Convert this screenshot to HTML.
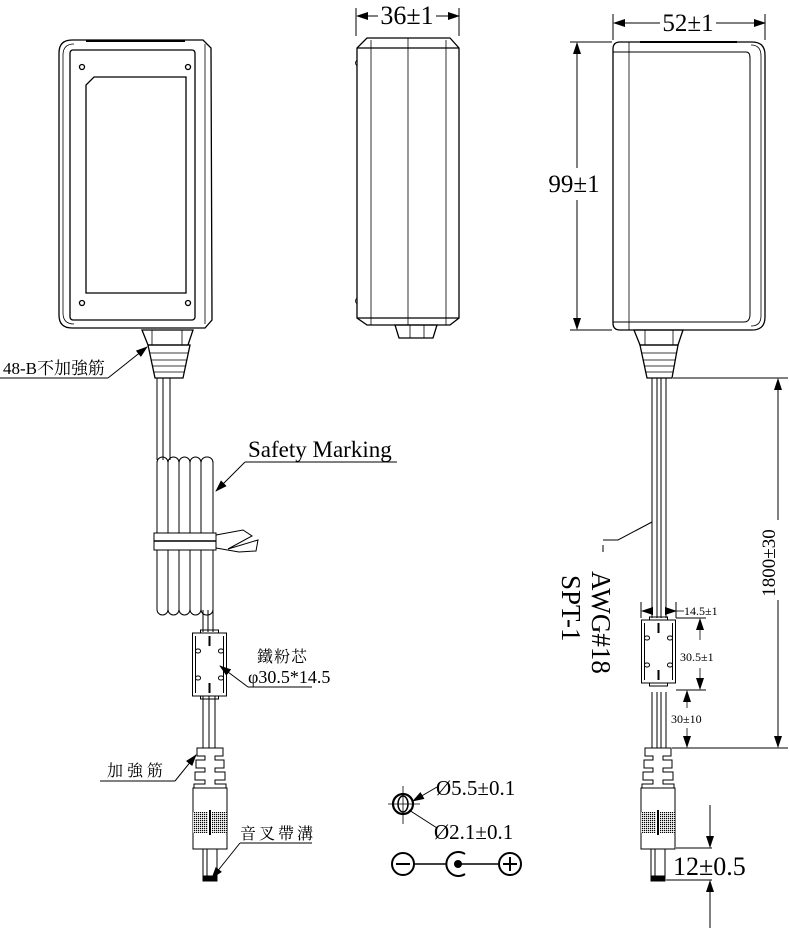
<!DOCTYPE html>
<html><head><meta charset="utf-8"><style>
html,body{margin:0;padding:0;background:#fff}
svg{display:block}
text{font-family:"Liberation Serif","Noto Serif CJK SC",serif;fill:#000}
.c{font-family:"Liberation Serif","Noto Serif CJK TC","Noto Sans CJK TC",serif}
</style></head><body>
<svg width="789" height="931" viewBox="0 0 789 931" xmlns="http://www.w3.org/2000/svg">
<defs>
<marker id="ar" markerWidth="12" markerHeight="8" refX="11" refY="4" orient="auto" markerUnits="userSpaceOnUse"><path d="M0,0 L12,4 L0,8 z" fill="#000"/></marker>
<pattern id="kn" width="2" height="2" patternUnits="userSpaceOnUse"><rect width="2" height="2" fill="#fff"/><rect width="1.2" height="1.2" fill="#000"/></pattern>
<g id="plug" fill="none" stroke="#000" stroke-width="1">
<path d="M-13,748 L13,748 L13,756 L5,756 L5,760 L14,760 L14,768 L5,768 L5,772 L15,772 L15,780 L5,780 L5,784 L16,784 L16,788 L-16,788 L-16,784 L-5,784 L-5,780 L-15,780 L-15,772 L-5,772 L-5,768 L-14,768 L-14,760 L-5,760 L-5,756 L-13,756 z" fill="#fff"/>
<rect x="-17" y="788" width="34" height="61" fill="#fff"/>
<rect x="-17" y="812" width="15" height="21" fill="url(#kn)" stroke="none"/>
<rect x="2" y="812" width="15" height="21" fill="url(#kn)" stroke="none"/>
<line x1="0" y1="810" x2="0" y2="835" stroke-width="2"/>
<rect x="-7" y="849" width="14" height="29" fill="#fff"/>
<line x1="-3" y1="849" x2="-3" y2="876"/>
<rect x="-7" y="876" width="14" height="5" fill="#000"/>
</g>
<g id="fer" fill="none" stroke="#000" stroke-width="1">
<rect x="-17" y="0" width="34" height="63" fill="#fff"/>
<path d="M-9,0 V-3 H9 V0 M-9,63 V66 H9 V63"/>
<line x1="-14" y1="3" x2="-14" y2="60"/><line x1="14" y1="3" x2="14" y2="60"/>
<path d="M0,3 v10 M0,50 v10" stroke-width="2"/>
<rect x="-14" y="16" width="5" height="4" rx="2"/><rect x="9" y="16" width="5" height="4" rx="2"/>
<rect x="-14" y="43" width="5" height="4" rx="2"/><rect x="9" y="43" width="5" height="4" rx="2"/>
</g>
</defs>

<!-- LEFT VIEW body -->
<g fill="none" stroke="#000" stroke-width="1.3">
<path d="M72,40 L203,40 L211,48 L212,320 L205,328 L72,328 Q59,328 59,315 L59,53 Q59,40 72,40 z"/>
<path d="M74,44 Q63,44 63,55 L63,313 Q63,324 74,324" stroke-width="0.8"/>
<rect x="70" y="50" width="125" height="270" rx="3"/>
<line x1="205" y1="44" x2="205" y2="324" stroke-width="0.8"/>
<line x1="86" y1="41" x2="185" y2="41" stroke-width="2"/>
<path d="M94,77 L186,77 L186,293 L86,293 L86,85 z"/>
<circle cx="82" cy="67" r="2.5"/><circle cx="188" cy="67" r="2.5"/>
<circle cx="82" cy="303" r="2.5"/><circle cx="188" cy="303" r="2.5"/>
<path d="M142,330 L193,330 L188,345 L148,345 z"/>
<path d="M152,330 v15 M182,330 v15" stroke-width="0.8"/>
<path d="M148,345 L190,345 L183,378 L155,378 z"/>
<path d="M150,353 h38 M151,360 h36 M152,366 h33 M153,372 h31" stroke-width="0.8"/>
</g>
<!-- cord left -->
<g fill="none" stroke="#000" stroke-width="1">
<path d="M157,378 V460 M170,378 V460 M163,378 V460"/>
<rect x="157" y="457" width="11" height="158" rx="5.5"/>
<rect x="168" y="457" width="11" height="158" rx="5.5"/>
<rect x="179" y="457" width="11" height="158" rx="5.5"/>
<rect x="190" y="457" width="11" height="158" rx="5.5"/>
<rect x="201" y="457" width="12" height="158" rx="5.5"/>
<path d="M213,600 V632 M208,610 V632 M203,610 V632"/>
<rect x="154" y="533" width="62" height="17" fill="#fff"/>
<line x1="154" y1="541" x2="216" y2="541" stroke-width="1.5"/>
<path d="M216,535 L243,530 L252,536 L228,549 L258,540 L256,551 L239,552 L216,548"/>
<path d="M203,695 V748 M215,695 V748 M209,695 V748"/>
</g>
<use href="#fer" x="209.5" y="633"/>
<use href="#plug" x="210" y="0"/>

<!-- MIDDLE VIEW -->
<g fill="none" stroke="#000" stroke-width="1.3">
<path d="M367,38 L450,38 L459,48 L459,318 L450,325 L367,325 L357,318 L357,48 z"/>
<line x1="357" y1="48" x2="459" y2="48"/><line x1="357" y1="318" x2="459" y2="318"/>
<path d="M371,48 V318 M408,38 V325 M446,48 V318" stroke-width="0.8"/>
<path d="M371,40 V48 M446,40 V48 M371,318 V325 M446,318 V325" stroke-width="0.8"/>
<path d="M395,325 L437,325 L433,338 L399,338 z"/>
<path d="M410,325 v13 M424,325 v13" stroke-width="0.8"/>
<path d="M357,60 q-3,3 0,6 M357,298 q-3,3 0,6" stroke-width="0.8"/>
</g>
<g stroke="#000" stroke-width="1" fill="none">
<path d="M356,36 V8 M459,36 V8"/>
<line x1="378" y1="16" x2="357" y2="16" marker-end="url(#ar)"/>
<line x1="436" y1="16" x2="459" y2="16" marker-end="url(#ar)"/>
</g>
<text x="407" y="24" font-size="26" text-anchor="middle">36±1</text>

<!-- RIGHT VIEW body -->
<g fill="none" stroke="#000" stroke-width="1.3">
<path d="M620,42 L752,42 Q765,42 765,55 L765,317 Q765,330 752,330 L620,330 Q613,330 613,323 L613,49 Q613,42 620,42 z"/>
<path d="M613,52 L746,52 Q750,52 750,58 V314 Q750,322 744,322 L613,322" stroke-width="1"/>
<path d="M751,45 Q761,45 761,56 V316 Q761,326 751,326" stroke-width="0.8"/>
<line x1="629" y1="42" x2="629" y2="330" stroke-width="0.8"/>
<line x1="640" y1="42" x2="737" y2="42" stroke-width="2"/>
<path d="M634,330 L683,330 L678,345 L640,345 z"/>
<path d="M645,330 v15 M673,330 v15" stroke-width="0.8"/>
<path d="M640,345 L678,345 L672,378 L647,378 z"/>
<path d="M642,353 h34 M643,360 h32 M644,366 h30 M645,372 h28" stroke-width="0.8"/>
</g>
<g fill="none" stroke="#000" stroke-width="1">
<path d="M652,378 V618 M666,378 V618 M657,378 V618 M661,378 V618"/>
<path d="M652,692 V749 M666,692 V749 M657,692 V749 M661,692 V749"/>
</g>
<use href="#fer" x="658.5" y="620"/>
<use href="#plug" x="658" y="0"/>

<!-- dims right -->
<g stroke="#000" stroke-width="1" fill="none">
<path d="M613,40 V14 M765,40 V14"/>
<line x1="660" y1="23" x2="614" y2="23" marker-end="url(#ar)"/>
<line x1="716" y1="23" x2="765" y2="23" marker-end="url(#ar)"/>
<path d="M612,42 H570 M612,330 H570"/>
<line x1="577" y1="168" x2="577" y2="43" marker-end="url(#ar)"/>
<line x1="577" y1="200" x2="577" y2="329" marker-end="url(#ar)"/>
<path d="M673,378 H788 M672,748 H788"/>
<line x1="778" y1="520" x2="778" y2="379" marker-end="url(#ar)"/>
<line x1="778" y1="600" x2="778" y2="747" marker-end="url(#ar)"/>
<path d="M641,618 V602 M676,618 V602 M676,618 H706 M676,690 H706"/>
<line x1="652" y1="611" x2="642" y2="611" marker-end="url(#ar)" stroke-width="0.8"/>
<line x1="666" y1="611" x2="676" y2="611" marker-end="url(#ar)" stroke-width="0.8"/>
<line x1="676" y1="611" x2="684" y2="611" stroke-width="0.8"/>
<line x1="700" y1="640" x2="700" y2="619" marker-end="url(#ar)" stroke-width="0.8"/>
<line x1="700" y1="668" x2="700" y2="689" marker-end="url(#ar)" stroke-width="0.8"/>
<line x1="687" y1="708" x2="687" y2="691" marker-end="url(#ar)" stroke-width="0.8"/>
<line x1="687" y1="728" x2="687" y2="747" marker-end="url(#ar)" stroke-width="0.8"/>
<path d="M676,848 H712 M666,880 H712"/>
<line x1="710" y1="805" x2="710" y2="847" marker-end="url(#ar)"/>
<line x1="710" y1="928" x2="710" y2="881" marker-end="url(#ar)"/>
<path d="M652,522 L618,540 L603,540 M603,545 V552" />
</g>
<text x="574" y="192" font-size="25" text-anchor="middle">99±1</text>
<text x="688" y="31" font-size="25" text-anchor="middle">52±1</text>
<text transform="translate(775,563) rotate(-90)" font-size="19" text-anchor="middle" style="paint-order:stroke" stroke="#fff" stroke-width="6">1800±30</text>
<text x="684" y="615" font-size="12">14.5±1</text>
<text x="680" y="661" font-size="12" style="paint-order:stroke" stroke="#fff" stroke-width="4">30.5±1</text>
<text x="671" y="723" font-size="12" style="paint-order:stroke" stroke="#fff" stroke-width="4">30±10</text>
<text x="673" y="875" font-size="26">12±0.5</text>
<text transform="translate(592,571) rotate(90)" font-size="27">AWG#18</text>
<text transform="translate(562,575) rotate(90)" font-size="27">SPT-1</text>

<!-- left labels -->
<g stroke="#000" stroke-width="1" fill="none">
<path d="M0,378 H108"/><line x1="108" y1="378" x2="147" y2="347" marker-end="url(#ar)"/>
<path d="M397,462 H245"/><line x1="245" y1="462" x2="216" y2="491" marker-end="url(#ar)"/>
<path d="M312,687 H248"/><line x1="248" y1="687" x2="220" y2="666" marker-end="url(#ar)"/>
<path d="M100,781 H175"/><line x1="175" y1="781" x2="196" y2="755" marker-end="url(#ar)"/>
<path d="M312,843 H240"/><line x1="240" y1="843" x2="212" y2="878" marker-end="url(#ar)"/>
</g>
<text x="3" y="374" font-size="17" class="c">48-B不加強筋</text>
<text x="248" y="457" font-size="23">Safety Marking</text>
<text x="257" y="662" font-size="16" class="c" letter-spacing="1">鐵粉芯</text>
<text x="248" y="683" font-size="18">φ30.5*14.5</text>
<text x="107" y="776" font-size="16" class="c" letter-spacing="4">加強筋</text>
<text x="240" y="839" font-size="16" class="c" letter-spacing="3">音叉帶溝</text>

<!-- connector symbols -->
<g stroke="#000" fill="none">
<circle cx="403" cy="804" r="10" stroke-width="2.2"/>
<ellipse cx="403" cy="804" rx="5" ry="8" stroke-width="1.5"/>
<path d="M388,804 H420 M403,786 V824" stroke-width="0.8"/>
<line x1="437" y1="787" x2="413" y2="801" stroke-width="1" marker-end="url(#ar)"/>
<line x1="437" y1="828" x2="409" y2="810" stroke-width="1"/>
<circle cx="403" cy="864" r="11" stroke-width="2"/>
<path d="M396,864 H410" stroke-width="2"/>
<path d="M414,864 H447 M458,864 H498" stroke-width="1.5"/>
<path d="M465,854 A12,12 0 1 0 465,874" stroke-width="2"/>
<circle cx="510" cy="864" r="11" stroke-width="2"/>
<path d="M503,864 H517 M510,857 V871" stroke-width="2"/>
</g>
<circle cx="458" cy="864" r="4" fill="#000"/>
<text x="436" y="795" font-size="21">Ø5.5±0.1</text>
<text x="434" y="839" font-size="21">Ø2.1±0.1</text>
</svg>
</body></html>
